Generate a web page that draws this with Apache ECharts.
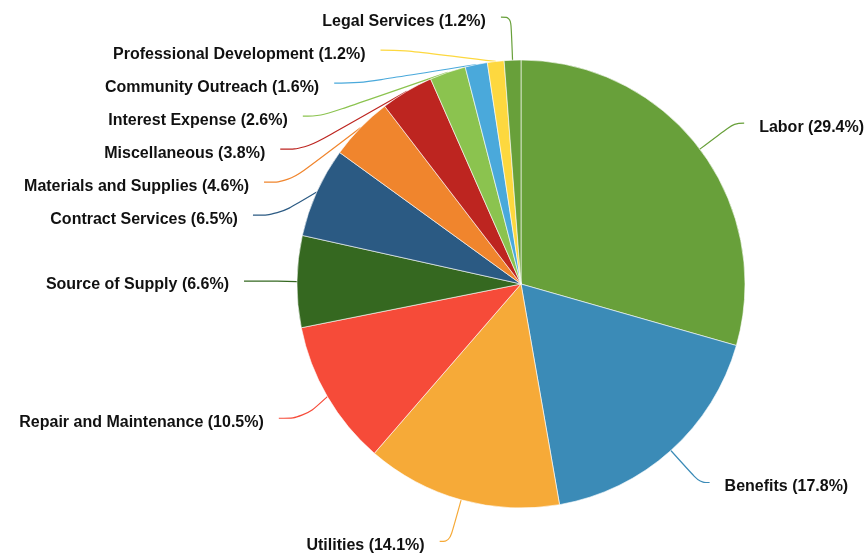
<!DOCTYPE html>
<html>
<head>
<meta charset="utf-8">
<style>
  html, body { margin: 0; padding: 0; background: #fff; }
  #chart { width: 867px; height: 560px; }
</style>
<script src="https://cdn.jsdelivr.net/npm/echarts@6/dist/echarts.min.js"></script>
</head>
<body>
<div id="chart"></div>
<script>
// expense categories, clockwise from 12 o'clock
var categories = [
  'Labor', 'Benefits', 'Utilities', 'Repair and Maintenance', 'Source of Supply',
  'Contract Services', 'Materials and Supplies', 'Miscellaneous', 'Interest Expense',
  'Community Outreach', 'Professional Development', 'Legal Services'
];
var shares = [29.4, 17.8, 14.1, 10.5, 6.6, 6.5, 4.6, 3.8, 2.6, 1.6, 1.2, 1.2];
var colors = [
  '#68a03a', '#3b8bb7', '#f6aa38', '#f64b39', '#356820', '#2b5a83',
  '#f0852d', '#bd2520', '#8bc34f', '#4aa9db', '#fdd83f'
];
// left-hand labels sit a bit further out
var longLeaders = ['Repair and Maintenance', 'Source of Supply', 'Contract Services',
  'Materials and Supplies', 'Miscellaneous', 'Interest Expense',
  'Community Outreach', 'Professional Development'];

var chart = echarts.init(document.getElementById('chart'));

var data = categories.map(function (name, i) {
  var d = { name: name, value: shares[i] };
  if (longLeaders.indexOf(name) >= 0) {
    d.labelLine = { length2: 25 };
  }
  return d;
});

chart.setOption({
  color: colors,
  animation: false,
  series: [{
    type: 'pie',
    center: [521, 284],
    radius: 224,
    startAngle: 90,
    clockwise: true,
    data: data,
    itemStyle: {
      borderColor: 'rgba(255,255,255,0.6)',
      borderWidth: 1
    },
    label: {
      overflow: 'none',
      distanceToLabelLine: 15,
      fontSize: 16,
      lineHeight: 23,
      padding: [8, 0, 0, 0],
      formatter: function (p) {
        return '{t|' + p.name + ' (' + p.value.toFixed(1) + '%)}';
      },
      rich: {
        t: {
          color: '#111',
          fontFamily: 'Liberation Sans, Arial, sans-serif',
          fontWeight: 'bold',
          fontSize: 16,
          lineHeight: 23
        }
      }
    },
    labelLine: {
      show: true,
      smooth: 0.4,
      length: 43,
      length2: 10,
      lineStyle: { width: 1.2 }
    }
  }]
});
</script>
</body>
</html>
